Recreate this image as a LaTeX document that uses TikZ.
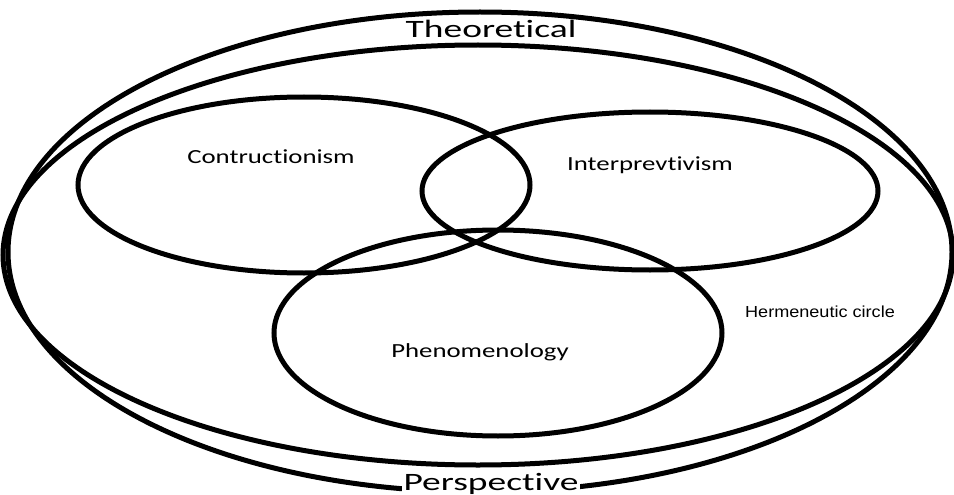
\documentclass[tikz,border=0pt]{standalone}
\usepackage{fontspec}
\setmainfont{Carlito}[Ligatures=NoCommon]
\newfontfamily\arialfont{Liberation Sans}
\tikzset{
  ring/.style={line width=5pt},
  venntext/.style={font=\fontsize{20}{24}\selectfont, xscale=1.34},
  edgetext/.style={font=\fontsize{25}{30}\selectfont, xscale=1.5, inner sep=1pt},
}
\begin{document}
\begin{tikzpicture}[x=1pt,y=-1pt]
    \useasboundingbox (0,0) rectangle (954,495);
    \draw[ring] (480,252) ellipse (472 and 240);
    \draw[ring] (478,255) ellipse (475 and 210);
    \draw[ring] (304,185) ellipse (226 and 88);
    \draw[ring] (650,191) ellipse (228 and 79);
    \draw[ring] (498,333) ellipse (224 and 103);

    \node[edgetext] (theory) at (491,29) {Theoretical};
    \node[edgetext, fill=white] (persp) at (491,484) {Perspective};
    \node[venntext] (constr) at (271,157) {Contructionism};
    \node[venntext] (interp) at (650,165) {Interprevtivism};
    \node[venntext] (phenom) at (480,352) {Phenomenology};
    \node[font=\arialfont\fontsize{16}{19}\selectfont, xscale=1.13] (herm) at (820,312) {Hermeneutic circle};
\end{tikzpicture}
\end{document}
